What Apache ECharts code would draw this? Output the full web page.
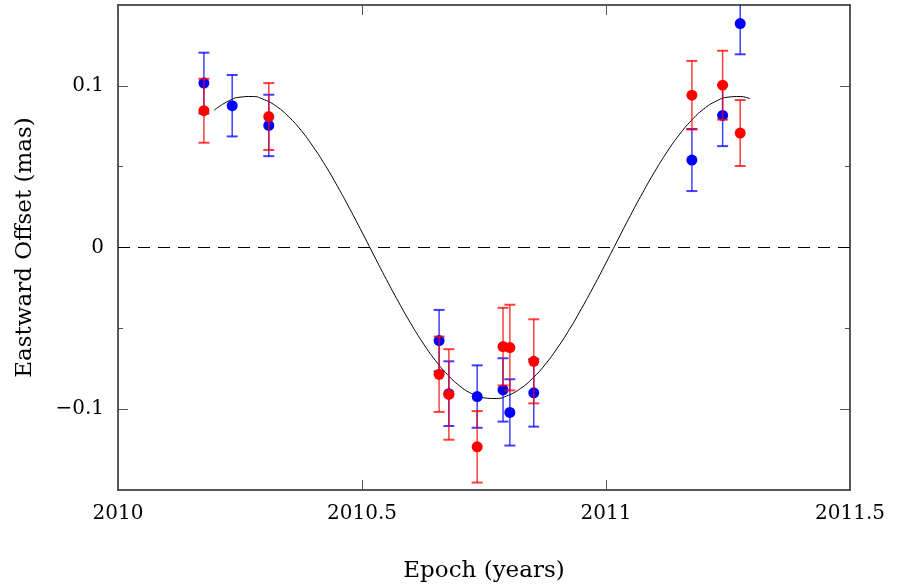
<!DOCTYPE html>
<html>
<head>
<meta charset="utf-8">
<script src="https://cdn.jsdelivr.net/npm/echarts@6/dist/echarts.min.js"></script>
<style>html,body{margin:0;padding:0;background:#fff}#c{width:899px;height:588px}</style>
</head>
<body>
<div id="c"></div>
<script>
// ---- data ----
const xTickValues = [2010, 2010.5, 2011, 2011.5];
const yMajorTicks = [-0.1, 0, 0.1];
const yMinorTicks = [-0.05, 0.05];

const blueT = [2010.176, 2010.234, 2010.309, 2010.658, 2010.678, 2010.736, 2010.789, 2010.803, 2010.852, 2011.176, 2011.239, 2011.275];
const blueV = [0.1017, 0.0877, 0.0755, -0.0576, -0.0904, -0.0922, -0.0881, -0.1020, -0.0899, 0.0541, 0.0817, 0.1385];
const blueE = [0.0188, 0.0190, 0.0190, 0.0190, 0.0200, 0.0193, 0.0196, 0.0205, 0.0209, 0.0192, 0.0190, 0.0190];

const redT = [2010.176, 2010.309, 2010.658, 2010.678, 2010.736, 2010.789, 2010.803, 2010.852, 2011.176, 2011.239, 2011.275];
const redV = [0.0846, 0.0810, -0.0784, -0.0909, -0.1233, -0.0613, -0.0619, -0.0704, 0.0942, 0.1004, 0.0708];
const redE = [0.0198, 0.0207, 0.0233, 0.0280, 0.0221, 0.0240, 0.0265, 0.0260, 0.0212, 0.0213, 0.0204];

const curveT = [2010.197, 2010.225, 2010.25, 2010.275, 2010.3, 2010.325, 2010.35, 2010.375, 2010.4, 2010.425, 2010.45, 2010.475, 2010.5, 2010.525, 2010.55, 2010.575, 2010.6, 2010.625, 2010.65, 2010.675, 2010.7, 2010.725, 2010.75, 2010.775, 2010.8, 2010.825, 2010.85, 2010.875, 2010.9, 2010.925, 2010.95, 2010.975, 2011.0, 2011.025, 2011.05, 2011.075, 2011.1, 2011.125, 2011.15, 2011.175, 2011.2, 2011.225, 2011.25, 2011.275, 2011.295];
const curveV = [0.0849, 0.0904, 0.0930, 0.0934, 0.0914, 0.0872, 0.0808, 0.0725, 0.0623, 0.0507, 0.0377, 0.0239, 0.0095, -0.0052, -0.0198, -0.0338, -0.0470, -0.0591, -0.0697, -0.0786, -0.0856, -0.0904, -0.0930, -0.0934, -0.0914, -0.0872, -0.0808, -0.0725, -0.0623, -0.0507, -0.0377, -0.0239, -0.0095, 0.0052, 0.0198, 0.0338, 0.0470, 0.0591, 0.0697, 0.0786, 0.0856, 0.0904, 0.0930, 0.0934, 0.0920];

const xLabel = 'Epoch (years)';
const yLabel = 'Eastward Offset (mas)';

// ---- chart ----
const FONT = 'DejaVu Serif';
const axisLineStyle = { color: '#222', width: 1.5 };
const tickStyle = { color: '#555', width: 1 };

function errRender(color) {
  return function (params, api) {
    const x = api.value(0), y = api.value(1), e = api.value(2);
    const top = api.coord([x, y + e]);
    const bot = api.coord([x, y - e]);
    const hw = 5.5;
    const st = { stroke: color, lineWidth: 1.5 };
    return {
      type: 'group',
      children: [
        { type: 'line', shape: { x1: top[0], y1: top[1], x2: bot[0], y2: bot[1] }, style: st },
        { type: 'line', shape: { x1: top[0] - hw, y1: top[1], x2: top[0] + hw, y2: top[1] }, style: { stroke: color, lineWidth: 2 } },
        { type: 'line', shape: { x1: bot[0] - hw, y1: bot[1], x2: bot[0] + hw, y2: bot[1] }, style: { stroke: color, lineWidth: 2 } }
      ]
    };
  };
}

const fmtY = v => (v === 0 ? '0' : (v < 0 ? '\u2212' + String(Math.abs(v)) : String(v)));

const chart = echarts.init(document.getElementById('c'), null, { renderer: 'canvas' });
chart.setOption({
  backgroundColor: '#fff',
  animation: false,
  grid: { left: 118, right: 49, top: 5, bottom: 97, containLabel: false },
  xAxis: [
    {
      type: 'value', position: 'bottom', min: xTickValues[0], max: xTickValues[xTickValues.length - 1], interval: 0.5,
      axisLine: { show: true, onZero: false, lineStyle: axisLineStyle },
      axisTick: { show: true, inside: true, length: 10, lineStyle: tickStyle },
      axisLabel: { show: true, margin: 14, color: '#000', fontFamily: FONT, fontSize: 20, formatter: v => String(v) },
      splitLine: { show: false },
      name: xLabel, nameLocation: 'middle', nameGap: 70,
      nameTextStyle: { color: '#000', fontFamily: FONT, fontSize: 23 }
    },
    {
      type: 'value', position: 'top', min: xTickValues[0], max: xTickValues[xTickValues.length - 1], interval: 0.5,
      axisLine: { show: true, onZero: false, lineStyle: axisLineStyle },
      axisTick: { show: true, inside: true, length: 10, lineStyle: tickStyle },
      axisLabel: { show: false },
      splitLine: { show: false }
    }
  ],
  yAxis: [
    {
      type: 'value', position: 'left', min: -0.15, max: 0.15,
      axisLine: { show: true, onZero: false, lineStyle: axisLineStyle },
      axisTick: { show: true, inside: true, length: 10, lineStyle: tickStyle, customValues: yMajorTicks },
      axisLabel: { show: true, margin: 14, color: '#000', fontFamily: FONT, fontSize: 20, customValues: yMajorTicks, formatter: fmtY },
      splitLine: { show: false },
      name: yLabel, nameLocation: 'middle', nameGap: 81, nameRotate: 90,
      nameTextStyle: { color: '#000', fontFamily: FONT, fontSize: 23 }
    },
    {
      type: 'value', position: 'left', min: -0.15, max: 0.15,
      axisLine: { show: false },
      axisTick: { show: true, inside: true, length: 5, lineStyle: tickStyle, customValues: yMinorTicks },
      axisLabel: { show: false, customValues: yMinorTicks },
      splitLine: { show: false }
    },
    {
      type: 'value', position: 'right', min: -0.15, max: 0.15,
      axisLine: { show: true, onZero: false, lineStyle: axisLineStyle },
      axisTick: { show: true, inside: true, length: 10, lineStyle: tickStyle, customValues: yMajorTicks },
      axisLabel: { show: false, customValues: yMajorTicks },
      splitLine: { show: false }
    },
    {
      type: 'value', position: 'right', min: -0.15, max: 0.15,
      axisLine: { show: false },
      axisTick: { show: true, inside: true, length: 5, lineStyle: tickStyle, customValues: yMinorTicks },
      axisLabel: { show: false, customValues: yMinorTicks },
      splitLine: { show: false }
    }
  ],
  series: [
    {
      type: 'line', name: 'model', data: curveT.map((t, i) => [t, curveV[i]]),
      showSymbol: false, smooth: true, lineStyle: { color: '#000', width: 1 }, z: 1,
      markLine: {
        silent: true, symbol: 'none', label: { show: false },
        lineStyle: { color: '#000', width: 1, type: [12, 8] },
        data: [{ yAxis: 0 }]
      }
    },
    {
      type: 'custom', name: 'blueErr', renderItem: errRender('rgba(0,0,255,0.75)'), clip: true,
      data: blueT.map((t, i) => [t, blueV[i], blueE[i]]), z: 2,
      encode: { x: 0, y: 1 }
    },
    {
      type: 'scatter', name: 'blue', data: blueT.map((t, i) => [t, blueV[i]]),
      symbolSize: 11, itemStyle: { color: '#0000ff', opacity: 1 }, z: 3
    },
    {
      type: 'custom', name: 'redErr', renderItem: errRender('rgba(255,0,0,0.75)'), clip: true,
      data: redT.map((t, i) => [t, redV[i], redE[i]]), z: 4,
      encode: { x: 0, y: 1 }
    },
    {
      type: 'scatter', name: 'red', data: redT.map((t, i) => [t, redV[i]]),
      symbolSize: 11, itemStyle: { color: '#ff0000', opacity: 1 }, z: 5
    }
  ]
});
</script>
</body>
</html>
